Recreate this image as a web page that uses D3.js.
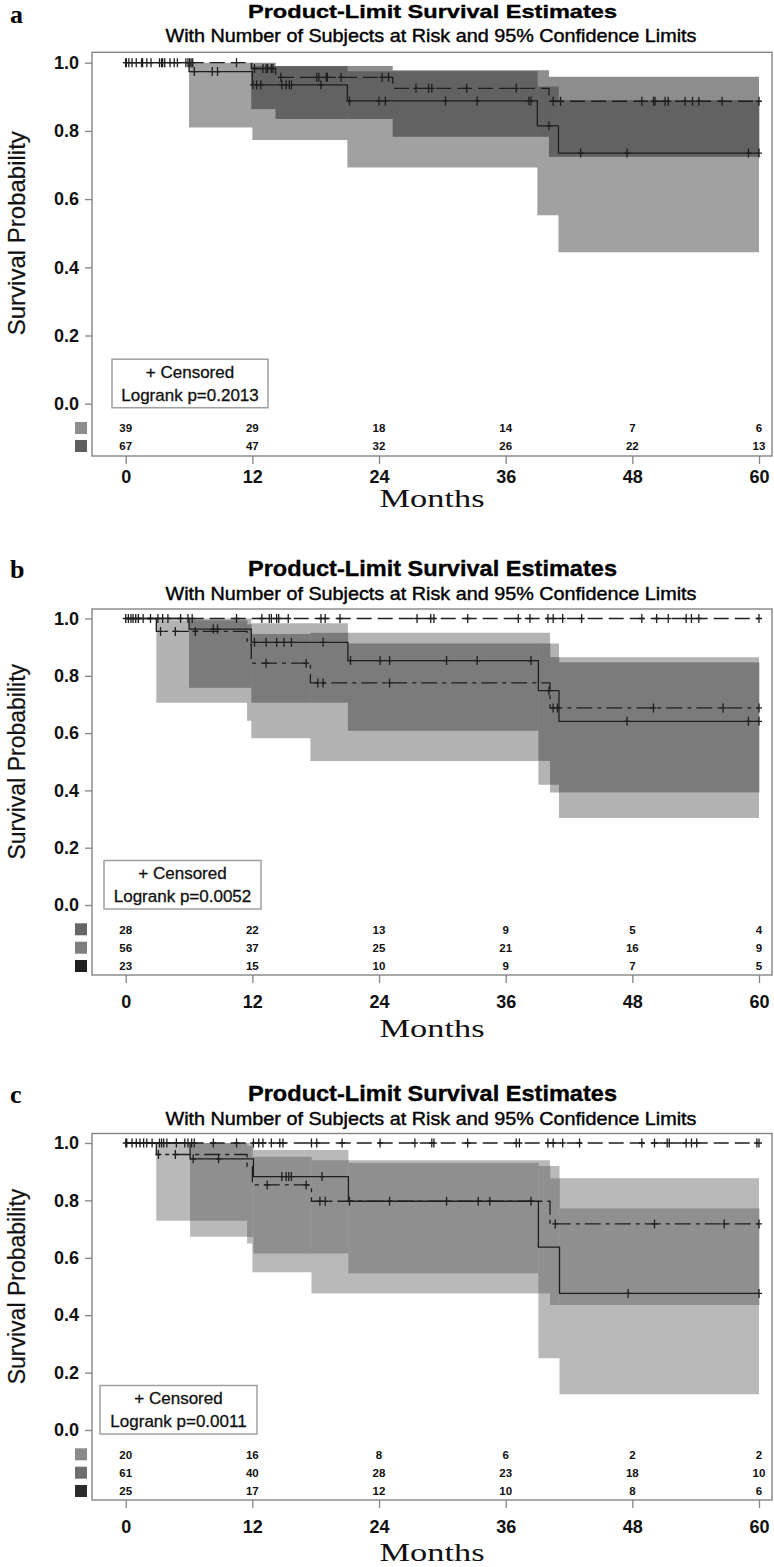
<!DOCTYPE html>
<html><head><meta charset="utf-8">
<script src="https://cdn.jsdelivr.net/npm/d3@7"></script>
<style>
html,body{margin:0;padding:0;background:#fff;}
svg{display:block;}
</style></head><body>
<svg id="chart" width="774" height="1567"></svg>
<script>
// ---------- shared labels / ticks ----------
const monthTicks = [0, 12, 24, 36, 48, 60];
const survTicks = [0, 0.2, 0.4, 0.6, 0.8, 1.0];
const panelLetters = ["a", "b", "c"];
const titleText = "Product-Limit Survival Estimates";
const subtitleText = "With Number of Subjects at Risk and 95% Confidence Limits";
const yTitleText = "Survival Probability";
const xTitleText = "Months";
const censorLabel = "+ Censored";
const logrankLabels = ["Logrank p=0.2013", "Logrank p=0.0052", "Logrank p=0.0011"];

// ---------- panel a ----------
const aSurv1 = [[0,1],[6,0.974],[12,0.935],[21,0.888],[39,0.815],[41,0.735]];
const aSurv2 = [[0,1],[11.9,0.983],[14.2,0.957],[25.3,0.925],[40.1,0.887]];
const aBand1 = [[6,0.81,1.0],[12,0.773,0.99],[21,0.693,0.975],[39,0.553,0.93],[41,0.444,0.89]];
const aBand2 = [[11.9,0.864,1.0],[14.2,0.835,0.99],[25.3,0.783,0.978],[40.1,0.724,0.959]];
const aCens1 = [0.06,0.6,1.5,2.0,3.2,3.5,4.2,4.9,5.7,5.9,6.5,8.2,8.7,12.05,12.4,12.8,14.8,15.2,15.5,15.7,18.5,21.2,24.0,24.6,30.3,33.3,38.2,38.4,40.1,43.1,47.5,59.0,60];
const aCens2 = [0,0.3,1.0,1.6,2.4,3.4,3.7,4.6,6.05,6.2,6.35,10.5,12.2,13.0,13.3,13.45,13.8,13.95,14.7,18.1,18.3,19.0,19.1,20.4,24.3,24.9,27.5,28.7,29.0,32.3,37.0,40.5,41.2,48.9,50.0,50.15,51.1,51.4,53.0,53.7,54.3,56.5,60];
const aAtRisk1 = [39, 29, 18, 14, 7, 6];
const aAtRisk2 = [67, 47, 32, 26, 22, 13];

// ---------- panel b ----------
const bSurv1 = [[0,1]];
const bSurv2 = [[0,1],[6.0,0.963],[11.9,0.917],[21.05,0.853],[39.1,0.748],[41.05,0.641]];
const bSurv3 = [[0,1],[2.9,0.955],[11.5,0.91],[11.9,0.844],[17.5,0.775],[40.2,0.688]];
const bBand2 = [[6,0.758,1.0],[11.9,0.706,0.983],[21.05,0.608,0.913],[39.1,0.42,0.913],[41.05,0.304,0.847]];
const bBand3 = [[2.9,0.706,0.994],[11.5,0.643,0.98],[11.9,0.582,0.946],[17.5,0.503,0.95],[40.2,0.393,0.865]];
const bCens1 = [0,0.25,0.5,0.7,0.95,1.2,1.65,2.35,3.05,3.5,4.0,5.2,5.9,6.3,10.5,12.9,13.6,13.8,14.3,14.5,15.4,18.5,18.9,20.3,27.6,28.9,29.2,32.4,37.2,38.3,40.0,40.5,41.4,43.2,48.9,50.3,51.4,53.1,53.6,54.3,60];
const bCens2 = [8.3,8.7,12.2,13.3,14.3,15.0,15.7,18.7,21.3,24.1,25.0,30.4,33.3,38.4,40.1,47.5,59.0,60];
const bCens3 = [3.3,4.7,6.6,13.3,17.1,18.2,18.7,25.0,40.5,40.9,50.0,56.6,60];
const bAtRisk1 = [28, 22, 13, 9, 5, 4];
const bAtRisk2 = [56, 37, 25, 21, 16, 9];
const bAtRisk3 = [23, 15, 10, 9, 7, 5];

// ---------- panel c ----------
const cSurv1 = [[0,1]];
const cSurv2 = [[0,1],[6.1,0.945],[12.1,0.883],[21.1,0.797],[39.1,0.637],[41.1,0.476]];
const cSurv3 = [[0,1],[2.9,0.96],[11.5,0.918],[12.0,0.854],[17.6,0.797],[40.2,0.718]];
const cBand2 = [[6.1,0.673,1.0],[12.1,0.615,0.976],[21.1,0.546,0.931],[39.1,0.25,0.92],[41.1,0.125,0.772]];
const cBand3 = [[2.9,0.729,1.0],[11.5,0.65,0.99],[12.0,0.55,0.952],[17.6,0.476,0.94],[40.2,0.4355,0.877]];
const cCens1 = [0,0.1,0.6,1.0,1.35,1.7,2.0,2.5,3.2,3.4,3.6,3.9,4.8,5.6,5.9,6.25,6.5,8.3,10.5,12.1,12.6,13.0,13.8,14.6,14.9,17.6,18.1,20.5,24.1,27.4,29.0,29.2,32.4,37.0,37.3,40.0,40.5,41.4,43.0,48.9,50.1,51.3,51.5,53.1,53.6,54.1,59.8,60];
const cCens2 = [6.4,8.8,14.8,15.2,15.45,15.7,18.6,30.4,33.4,34.5,38.4,47.6,60];
const cCens3 = [3.1,4.7,13.4,17.1,18.4,18.9,21.2,25.0,40.7,50.1,56.7,60];
const cAtRisk1 = [20, 16, 8, 6, 2, 2];
const cAtRisk2 = [61, 40, 28, 23, 18, 10];
const cAtRisk3 = [25, 17, 12, 10, 8, 6];

// ---------- assemble ----------
const SOLID = null, DASH = "15,6", DASHDOT = "16,5,4,5";
const panels = [
  { groups: [
      {surv:aSurv1, band:aBand1, cens:aCens1, atRisk:aAtRisk1, dash:SOLID, sq:"#8e8e8e", bandFill:"#a1a1a1"},
      {surv:aSurv2, band:aBand2, cens:aCens2, atRisk:aAtRisk2, dash:DASH,  sq:"#5f5f5f", bandFill:"#8d8d8d"}],
    overlap:"#626262",
    lay:{titleBase:18.3,titleSize:19,subBase:41.7,frameTop:52.3,yOne:62.7,yZero:403.7,rows:[428,446],axisY:456,tickPad:6,monthsBase:507,letterBase:23,yTitleSize:24,legX:[112,268]} },
  { groups: [
      {surv:bSurv1, band:null,   cens:bCens1, atRisk:bAtRisk1, dash:DASH,    sq:"#676767"},
      {surv:bSurv2, band:bBand2, cens:bCens2, atRisk:bAtRisk2, dash:SOLID,   sq:"#7e7e7e", bandFill:"#b3b3b3"},
      {surv:bSurv3, band:bBand3, cens:bCens3, atRisk:bAtRisk3, dash:DASHDOT, sq:"#1f1f1f", bandFill:"#b3b3b3"}],
    overlap:"#7b7b7b",
    lay:{titleBase:575.7,titleSize:21.5,subBase:600,frameTop:609,yOne:618.5,yZero:905,rows:[929.3,947.7,966],axisY:975,tickPad:12.5,monthsBase:1037,letterBase:578,yTitleSize:23,legX:[104,261]} },
  { groups: [
      {surv:cSurv1, band:null,   cens:cCens1, atRisk:cAtRisk1, dash:DASH,    sq:"#8a8a8a"},
      {surv:cSurv2, band:cBand2, cens:cCens2, atRisk:cAtRisk2, dash:SOLID,   sq:"#6f6f6f", bandFill:"#b9b9b9"},
      {surv:cSurv3, band:cBand3, cens:cCens3, atRisk:cAtRisk3, dash:DASHDOT, sq:"#2b2b2b", bandFill:"#b9b9b9"}],
    overlap:"#8f8f8f",
    lay:{titleBase:1100.7,titleSize:21.5,subBase:1125,frameTop:1133.5,yOne:1143,yZero:1430,rows:[1454.3,1472.7,1491],axisY:1500,tickPad:12.5,monthsBase:1561,letterBase:1103,yTitleSize:23,legX:[100,257]} }
];

const END = 60;
const svg = d3.select("#chart");
const x = d3.scaleLinear().domain([0, 60]).range([125.7, 759]);
const FRAME_L = 92, FRAME_R = 772;
const SANS = "'Liberation Sans', Arial, sans-serif";
const SERIF = "'Liberation Serif', 'Times New Roman', serif";
const bis = d3.bisector(d => d[0]).right;

function stepVal(arr, t) { const i = bis(arr, t) - 1; return i >= 0 ? arr[i] : null; }

panels.forEach((p, pi) => {
  const L = p.lay;
  const g = svg.append("g");
  const y = d3.scaleLinear().domain([0, 1]).range([L.yZero, L.yOne]);

  // panel letter
  g.append("text").attr("x", 10).attr("y", L.letterBase)
    .attr("font-family", SERIF).attr("font-weight", "bold").attr("font-size", 26)
    .text(panelLetters[pi]);
  // titles
  g.append("text").attr("x", 432.5).attr("y", L.titleBase).attr("text-anchor", "middle")
    .attr("font-family", SANS).attr("font-weight", "bold").attr("font-size", L.titleSize)
    .attr("stroke", "#000").attr("stroke-width", 0.35)
    .attr("textLength", 369).attr("lengthAdjust", "spacingAndGlyphs").text(titleText);
  g.append("text").attr("x", 431).attr("y", L.subBase).attr("text-anchor", "middle")
    .attr("font-family", SANS).attr("font-size", 18.5).attr("stroke", "#000").attr("stroke-width", 0.4)
    .attr("textLength", 531).attr("lengthAdjust", "spacingAndGlyphs").text(subtitleText);

  // confidence bands
  const area = d3.area().x(d => x(d[0])).y0(d => y(d[1])).y1(d => y(d[2])).curve(d3.curveStepAfter);
  const banded = p.groups.filter(gr => gr.band);
  banded.forEach(gr => {
    const pts = gr.band.concat([[END, gr.band[gr.band.length - 1][1], gr.band[gr.band.length - 1][2]]]);
    g.append("path").attr("d", area(pts)).attr("fill", gr.bandFill).attr("stroke", "none");
  });
  // overlap of the two bands
  if (banded.length === 2) {
    const A = banded[0].band, B = banded[1].band;
    const brk = Array.from(new Set(A.map(d => d[0]).concat(B.map(d => d[0]), [END]))).sort((m, n) => m - n);
    const segs = [];
    for (let k = 0; k < brk.length - 1; k++) {
      const a = stepVal(A, brk[k]), b = stepVal(B, brk[k]);
      if (!a || !b) continue;
      const lo = Math.max(a[1], b[1]), hi = Math.min(a[2], b[2]);
      if (hi > lo) segs.push({t0: brk[k], t1: brk[k + 1], lo, hi});
    }
    g.selectAll(null).data(segs).enter().append("rect")
      .attr("x", d => x(d.t0)).attr("width", d => x(d.t1) - x(d.t0) + 0.3)
      .attr("y", d => y(d.hi)).attr("height", d => y(d.lo) - y(d.hi))
      .attr("fill", p.overlap);
  }

  // frame
  g.append("rect").attr("x", FRAME_L).attr("y", L.frameTop)
    .attr("width", FRAME_R - FRAME_L).attr("height", L.axisY - L.frameTop)
    .attr("fill", "none").attr("stroke", "#858585").attr("stroke-width", 1.4);

  // survival lines
  const line = d3.line().x(d => x(d[0])).y(d => y(d[1])).curve(d3.curveStepAfter);
  p.groups.forEach(gr => {
    const pts = gr.surv.concat([[END, gr.surv[gr.surv.length - 1][1]]]);
    const path = g.append("path").attr("d", line(pts)).attr("fill", "none")
      .attr("stroke", "#1e1e1e").attr("stroke-width", 1.3);
    if (gr.dash) path.attr("stroke-dasharray", gr.dash);
    // censor marks
    const marks = gr.cens.map(t => [t, stepVal(gr.surv, t)[1]]);
    g.append("path").attr("d", marks.map(d => {
        const cx = x(d[0]), cy = y(d[1]);
        return `M${cx - 3},${cy}H${cx + 3}M${cx},${cy - 4.5}V${cy + 4.5}`;
      }).join(""))
      .attr("stroke", "#1e1e1e").attr("stroke-width", 1.3).attr("fill", "none");
  });

  // y axis
  const ya = g.append("g").attr("transform", `translate(${FRAME_L},0)`)
    .call(d3.axisLeft(y).tickValues(survTicks).tickFormat(d3.format(".1f")).tickSize(7).tickPadding(6).tickSizeOuter(0));
  ya.select(".domain").remove();
  ya.selectAll("line").attr("stroke", "#858585").attr("stroke-width", 1.3);
  ya.selectAll("text").attr("font-family", SANS).attr("font-weight", "bold").attr("font-size", 18).attr("fill", "#111");

  // x axis
  const xa = g.append("g").attr("transform", `translate(0,${L.axisY})`)
    .call(d3.axisBottom(x).tickValues(monthTicks).tickSize(8).tickPadding(L.tickPad).tickSizeOuter(0));
  xa.select(".domain").remove();
  xa.selectAll("line").attr("stroke", "#858585").attr("stroke-width", 1.3);
  xa.selectAll("text").attr("font-family", SANS).attr("font-weight", "bold").attr("font-size", 18).attr("fill", "#111");

  // axis titles
  g.append("text").attr("transform", `translate(25,${(L.yOne + L.yZero) / 2}) rotate(-90)`)
    .attr("text-anchor", "middle").attr("font-family", SANS).attr("font-size", L.yTitleSize).attr("fill", "#111")
    .attr("stroke", "#111").attr("stroke-width", 0.2)
    .text(yTitleText);
  g.append("text").attr("x", 432).attr("y", L.monthsBase).attr("text-anchor", "middle")
    .attr("font-family", SERIF).attr("font-size", 25).attr("fill", "#111")
    .attr("textLength", 105).attr("lengthAdjust", "spacingAndGlyphs").text(xTitleText);

  // legend box
  const lx0 = L.legX[0], lx1 = L.legX[1];
  g.append("rect").attr("x", lx0).attr("y", L.yZero - 44.5).attr("width", lx1 - lx0).attr("height", 48.5)
    .attr("fill", "#fff").attr("stroke", "#a0a0a0").attr("stroke-width", 1.5);
  g.append("text").attr("x", (lx0 + lx1) / 2).attr("y", L.yZero - 26).attr("text-anchor", "middle")
    .attr("font-family", SANS).attr("font-size", 17).attr("fill", "#111").attr("stroke", "#111").attr("stroke-width", 0.3)
    .text(censorLabel);
  g.append("text").attr("x", (lx0 + lx1) / 2).attr("y", L.yZero - 3).attr("text-anchor", "middle")
    .attr("font-family", SANS).attr("font-size", 17).attr("fill", "#111").attr("stroke", "#111").attr("stroke-width", 0.3)
    .text(logrankLabels[pi]);

  // at-risk table
  p.groups.forEach((gr, gi) => {
    const ry = L.rows[gi];
    g.append("rect").attr("x", 75).attr("y", ry - 6).attr("width", 12).attr("height", 12).attr("fill", gr.sq);
    g.selectAll(null).data(gr.atRisk).enter().append("text")
      .attr("x", (d, i) => x(monthTicks[i])).attr("y", ry + 4.2).attr("text-anchor", "middle")
      .attr("font-family", SANS).attr("font-weight", "bold").attr("font-size", 11.5).attr("fill", "#111")
      .text(d => d);
  });
});
</script>
</body></html>
